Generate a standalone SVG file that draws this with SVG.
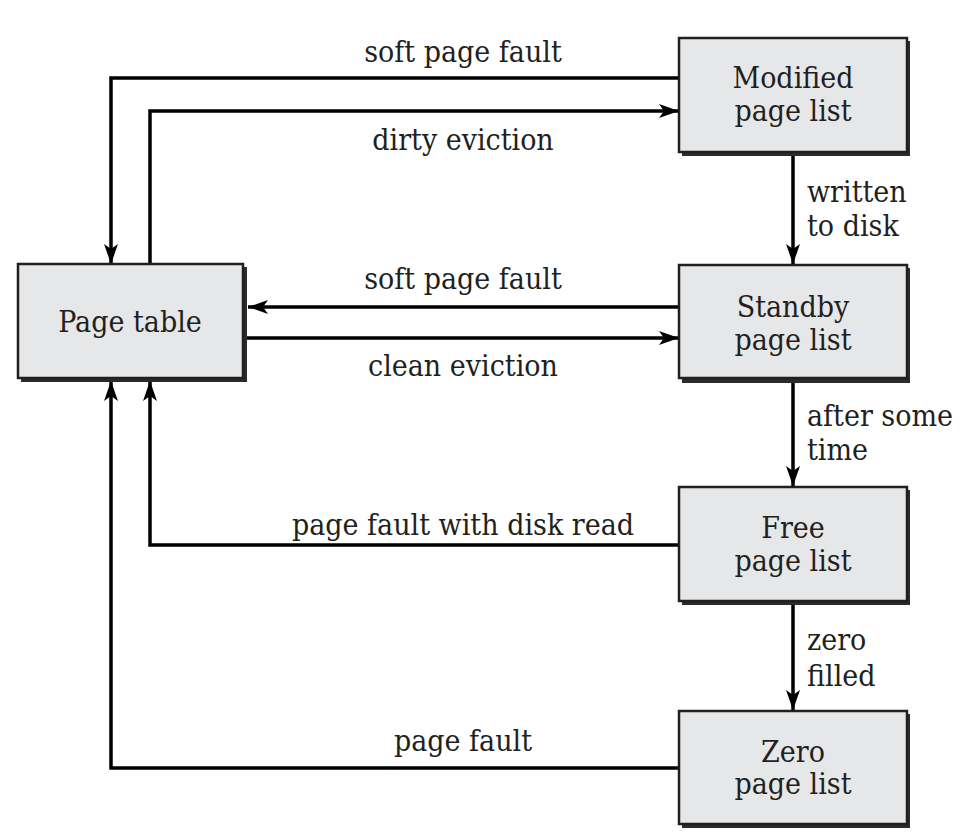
<svg xmlns="http://www.w3.org/2000/svg" width="968" height="840" viewBox="0 0 968 840">
<style>
.shadow{fill:#2b2b2b;}
.box{fill:#e6e7e8;stroke:#231f20;stroke-width:2.5;}
text{font-family:"DejaVu Serif Condensed","DejaVu Serif","Liberation Serif",serif;font-size:30px;fill:#231f20;}
.c{text-anchor:middle;}
.wire{fill:none;stroke:#000;stroke-width:3.5;}
</style>
<defs>
<marker id="ah" viewBox="0 0 20 14" refX="20" refY="7" markerWidth="20" markerHeight="14" markerUnits="userSpaceOnUse" orient="auto">
<path d="M0,0 L20,7 L0,14 L5,7 Z" fill="#000"/>
</marker>
</defs>
<rect width="968" height="840" fill="#fff"/>
<g id="connectors">
<polyline class="wire" points="679,78 111,78 111,264" marker-end="url(#ah)"/>
<polyline class="wire" points="150,264 150,111 679,111" marker-end="url(#ah)"/>
<polyline class="wire" points="679,307 248,307" marker-end="url(#ah)"/>
<polyline class="wire" points="246,338 679,338" marker-end="url(#ah)"/>
<polyline class="wire" points="679,545 150,545 150,381" marker-end="url(#ah)"/>
<polyline class="wire" points="679,768 111,768 111,381" marker-end="url(#ah)"/>
<line class="wire" x1="793" y1="155" x2="793" y2="264" marker-end="url(#ah)"/>
<line class="wire" x1="793" y1="381" x2="793" y2="486" marker-end="url(#ah)"/>
<line class="wire" x1="793" y1="604" x2="793" y2="710" marker-end="url(#ah)"/>
<text class="c" x="463" y="62">soft page fault</text>
<text class="c" x="463" y="150">dirty eviction</text>
<text class="c" x="463" y="289">soft page fault</text>
<text class="c" x="463" y="376">clean eviction</text>
<text class="c" x="463" y="535">page fault with disk read</text>
<text class="c" x="463" y="751">page fault</text>
<text x="807" y="202">written</text>
<text x="807" y="236">to disk</text>
<text x="807" y="426">after some</text>
<text x="807" y="460">time</text>
<text x="807" y="650">zero</text>
<text x="807" y="686">filled</text>
</g>
<g id="page-table">
<rect class="shadow" x="21" y="267" width="226" height="115"/>
<rect class="box" x="18" y="264" width="225" height="114"/>
<text class="c" x="130" y="332">Page table</text>
</g>
<g id="modified">
<rect class="shadow" x="682" y="41" width="228" height="115"/>
<rect class="box" x="679" y="38" width="228" height="114"/>
<text class="c" x="793" y="88">Modified</text>
<text class="c" x="793" y="121">page list</text>
</g>
<g id="standby">
<rect class="shadow" x="682" y="268" width="228" height="115"/>
<rect class="box" x="679" y="265" width="228" height="113"/>
<text class="c" x="793" y="317">Standby</text>
<text class="c" x="793" y="350">page list</text>
</g>
<g id="free">
<rect class="shadow" x="682" y="490" width="228" height="115"/>
<rect class="box" x="679" y="487" width="228" height="114"/>
<text class="c" x="793" y="538">Free</text>
<text class="c" x="793" y="571">page list</text>
</g>
<g id="zero">
<rect class="shadow" x="682" y="714" width="228" height="114"/>
<rect class="box" x="679" y="711" width="228" height="113"/>
<text class="c" x="793" y="762">Zero</text>
<text class="c" x="793" y="794">page list</text>
</g>
</svg>
